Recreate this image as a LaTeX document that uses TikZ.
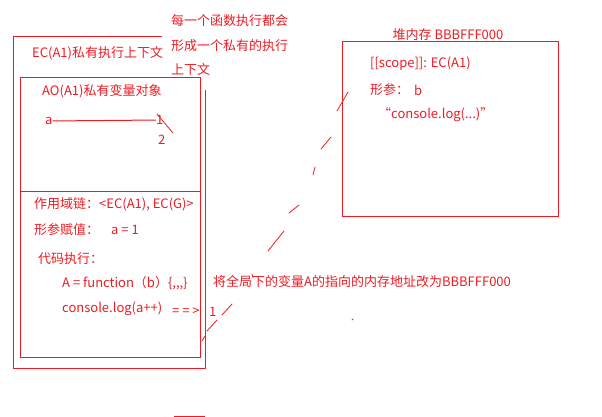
\documentclass[tikz,border=0pt]{standalone}
\usepackage{fontspec}
\newfontfamily\cjk{Noto Sans CJK SC}
\definecolor{inkred}{RGB}{237,28,36}
\tikzset{
  txt/.style={text=inkred, font=\cjk\fontsize{13}{15}\selectfont, inner sep=0pt, anchor=west},
  box/.style={draw=inkred, line width=1pt},
  scrib/.style={draw=inkred, line width=0.8pt, line cap=round},
}
\begin{document}
\begin{tikzpicture}[x=1pt,y=-1pt]
    \useasboundingbox (0,0) rectangle (602,417);
    % EC(A1) frame, corner hidden under the note
    \draw[box] (162,37) -- (13,37) -- (13,368) -- (205,368) -- (205,90);
    \draw[box] (20,78) rectangle (200,357);
    \draw[box] (20,191.5) -- (200,191.5);
    \node[txt] (ec) at (32,53) {EC(A1)私有执行上下文};
    \node[txt] (note1) at (171,21) {每一个函数执行都会};
    \node[txt] (note2) at (171,46) {形成一个私有的执行};
    \node[txt] (note3) at (171,70) {上下文};
    \node[txt] (ao) at (42,91) {AO(A1)私有变量对象};
    \node[txt] (a) at (45,121) {a};
    \node[txt] (one) at (156,120) {1};
    \node[txt] (two) at (158,140) {2};
    \coordinate (tick) at (173,133);
    \draw[box] (a) -- (one);
    \draw[scrib] (157,114) -- (tick);
    % lower part
    \node[txt] (chain) at (34,204) {作用域链：<EC(A1), EC(G)>};
    \node[txt] (args) at (34,230) {形参赋值：};
    \node[txt] (aval) at (111,230) {a = 1};
    \node[txt] (run) at (38,259) {代码执行：};
    \node[txt] (fn) at (62,283) {A = function（b）\{,,,\}};
    \node[txt] (log) at (62,309) {console.log(a++)};
    \node[txt] (arr) at (172,312) {= = >};
    \node[txt] (res) at (209,312) {1};
    \node[txt] (redo) at (213,282) {将全局下的变量A的指向的内存地址改为BBBFFF000};
    % heap
    \node[txt,anchor=center] (heapt) at (448,35) {堆内存 BBBFFF000};
    \draw[box] (342,42) rectangle (558,216);
    \node[txt] (scope) at (370,64) {[[scope]]: EC(A1)};
    \node[txt] (par) at (370,90) {形参：};
    \node[txt] (b) at (414,90) {b};
    \node[txt] (body) at (378,115) {“console.log(...)”};
    % hand drawn dashes
    \foreach \ax/\ay/\bx/\by in {202/341/205/336, 207/331/217/320, 222/315/232/304,
        252/274/253/278, 268/251/284/231, 289/213/299/205,
        313/175/315/167, 321/149/331/137, 337/111/348/92, 352/320/353/319}
        \draw[scrib] (\ax,\ay) -- (\bx,\by);
    \draw[box] (174,416) -- (205,416);
\end{tikzpicture}
\end{document}
